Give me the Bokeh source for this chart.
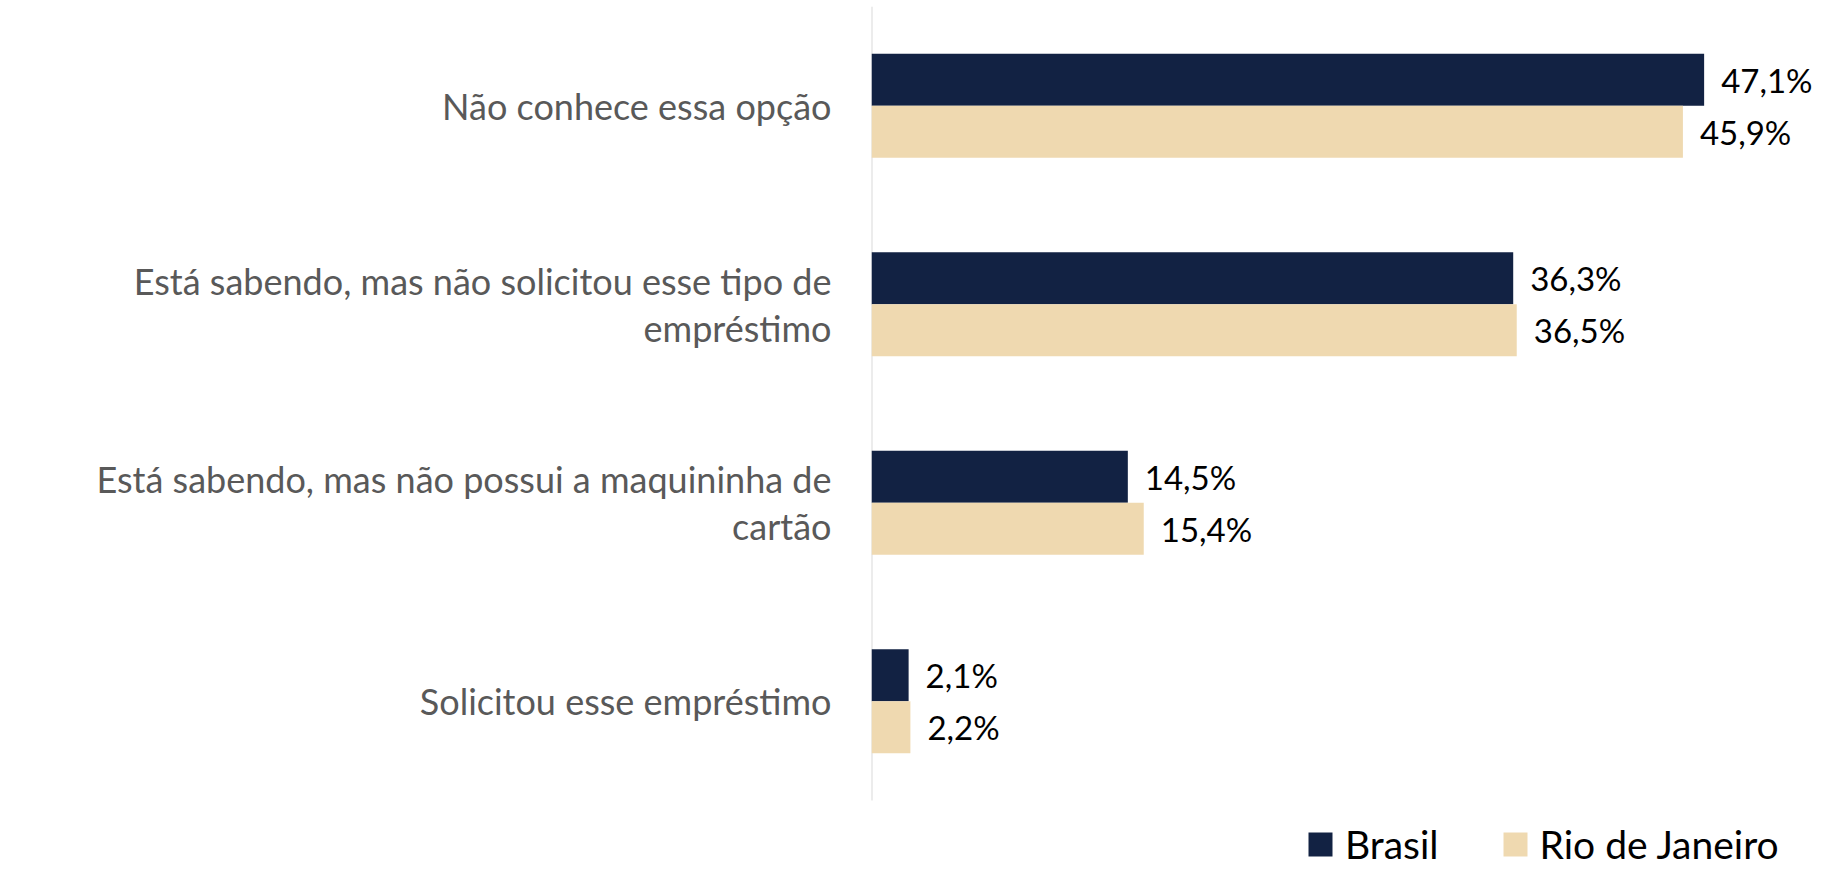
from bokeh.plotting import figure
from bokeh.models import ColumnDataSource, Range1d, Legend, LegendItem, FixedTicker
from bokeh.transform import dodge
from bokeh.core.properties import value
from bokeh.embed import file_html
from bokeh.resources import INLINE

categories = [
    "Não conhece essa opção",
    "Está sabendo, mas não solicitou esse tipo de\nempréstimo",
    "Está sabendo, mas não possui a maquininha de\ncartão",
    "Solicitou esse empréstimo",
]
brasil = [47.1, 36.3, 14.5, 2.1]
rio = [45.9, 36.5, 15.4, 2.2]
series_names = ["Brasil", "Rio de Janeiro"]

NAVY = "#122243"
BEIGE = "#EFD9B0"
FONT = "Lato"


def fmt(v):
    return f"{v:.1f}".replace(".", ",") + "%"


n = len(categories)
pos = [n - 1 - i for i in range(n)]  # first category on top

src = ColumnDataSource(dict(
    pos=pos,
    cat=categories,
    brasil=brasil,
    rio=rio,
    brasil_lbl=[fmt(v) for v in brasil],
    rio_lbl=[fmt(v) for v in rio],
))

p = figure(
    width=1815, height=868,
    y_range=Range1d(-0.8426, n - 0.5),
    x_range=Range1d(0, 53.4),
    output_backend="svg", toolbar_location=None,
    min_border_left=871, min_border_right=0, min_border_top=6, min_border_bottom=0,
)
p.outline_line_color = None
p.grid.visible = False
p.xaxis.visible = False

yax = p.yaxis[0]
yax.ticker = FixedTicker(ticks=pos)
yax.major_label_overrides = {int(k): c for k, c in zip(pos, categories)}
yax.axis_line_color = None
yax.major_tick_line_color = None
yax.minor_tick_line_color = None
yax.major_label_standoff = 34
yax.major_label_text_font = FONT
yax.major_label_text_font_size = "36px"
yax.major_label_text_color = "#595959"
yax.major_label_text_line_height = 1.06

# axis line spanning the category bands
p.segment(x0=[0], y0=[-0.5], x1=[0], y1=[n - 0.5], line_color="#d9d9d9", line_width=2)

bw = 0.262
r1 = p.hbar(y=dodge("pos", bw / 2), right="brasil", left=0, height=bw,
            source=src, fill_color=NAVY, line_color=None)
r2 = p.hbar(y=dodge("pos", -bw / 2), right="rio", left=0, height=bw,
            source=src, fill_color=BEIGE, line_color=None)

p.text(x="brasil", y=dodge("pos", bw / 2), text="brasil_lbl", source=src,
       x_offset=17, text_baseline="middle", text_align="left",
       text_font=value(FONT), text_font_size="33px", text_color="#000000")
p.text(x="rio", y=dodge("pos", -bw / 2), text="rio_lbl", source=src,
       x_offset=17, text_baseline="middle", text_align="left",
       text_font=value(FONT), text_font_size="33px", text_color="#000000")

legend = Legend(
    items=[LegendItem(label=series_names[0], renderers=[r1]),
           LegendItem(label=series_names[1], renderers=[r2])],
    orientation="horizontal", location=(434, 1),
    label_text_font=FONT, label_text_font_size="39px", label_text_color="#000000",
    glyph_width=30, glyph_height=30, label_height=30, spacing=61, label_standoff=10,
    border_line_color=None, background_fill_alpha=0, padding=0, margin=0,
)
p.add_layout(legend, "center")

open("out.html", "w").write(file_html(p, INLINE))
